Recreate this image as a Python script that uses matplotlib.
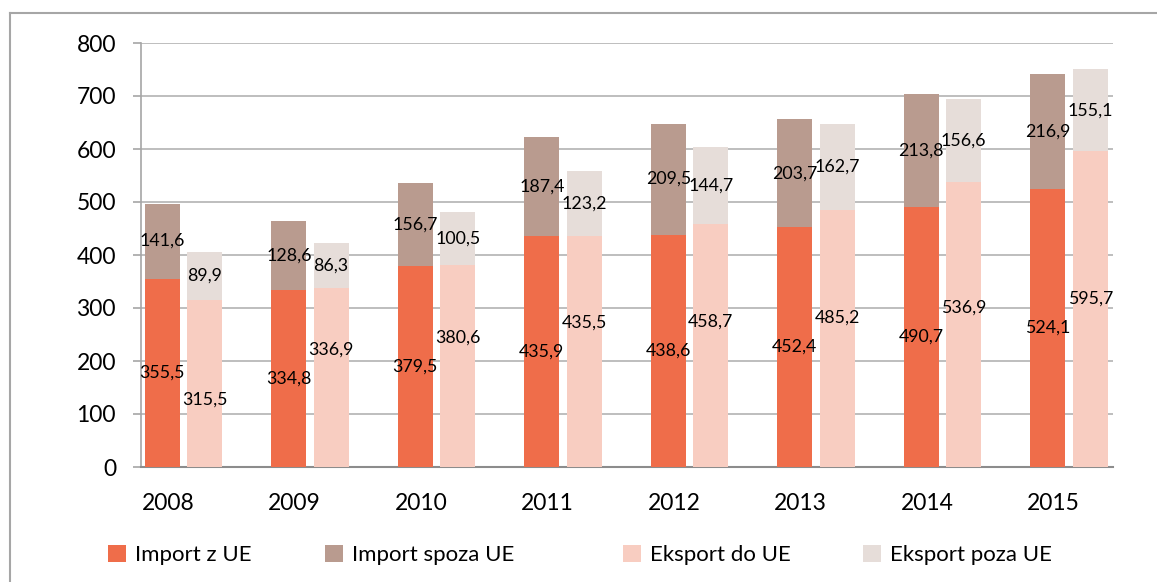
import numpy as np
import matplotlib.pyplot as plt
from matplotlib.lines import Line2D

plt.rcParams['font.family'] = ['Lato', 'DejaVu Sans']

years = ["2008", "2009", "2010", "2011", "2012", "2013", "2014", "2015"]
import_ue = [355.5, 334.8, 379.5, 435.9, 438.6, 452.4, 490.7, 524.1]
import_non_ue = [141.6, 128.6, 156.7, 187.4, 209.5, 203.7, 213.8, 216.9]
export_ue = [315.5, 336.9, 380.6, 435.5, 458.7, 485.2, 536.9, 595.7]
export_non_ue = [89.9, 86.3, 100.5, 123.2, 144.7, 162.7, 156.6, 155.1]

labels = ["Import z UE", "Import spoza UE", "Eksport do UE", "Eksport poza UE"]
colors = ["#EF6D4A", "#B99B8F", "#F8CDC1", "#E6DDD9"]
legend_x = [88, 305, 603, 843]   # left edge of each legend entry, px

def fmt(v):
    return f"{v:.1f}".replace(".", ",")

fig = plt.figure(figsize=(11.57, 5.82), dpi=100)
ax = fig.add_axes([141 / 1157, 1 - 467 / 582, (1113 - 141) / 1157, (467 - 43) / 582])

x = np.arange(len(years))
w = 0.275
xi = x - 0.045
xe = x + 0.29

b1 = ax.bar(xi, import_ue, w, color=colors[0], label=labels[0], zorder=3)
b2 = ax.bar(xi, import_non_ue, w, bottom=import_ue, color=colors[1], label=labels[1], zorder=3)
b3 = ax.bar(xe, export_ue, w, color=colors[2], label=labels[2], zorder=3)
b4 = ax.bar(xe, export_non_ue, w, bottom=export_ue, color=colors[3], label=labels[3], zorder=3)

lab_kw = dict(ha="center", va="center", fontsize=12.8, color="black", zorder=5)
for i in range(len(years)):
    mi = import_ue[i] / 2
    me = export_ue[i] / 2
    # keep the two lower labels from overlapping, as the original does
    if abs(me - mi) < 50:
        me = mi - 50 if me < mi - 10 else mi + 55
    ax.text(xi[i], mi, fmt(import_ue[i]), **lab_kw)
    ax.text(xe[i], me, fmt(export_ue[i]), **lab_kw)
    ax.text(xi[i], import_ue[i] + import_non_ue[i] / 2, fmt(import_non_ue[i]), **lab_kw)
    ax.text(xe[i], export_ue[i] + export_non_ue[i] / 2, fmt(export_non_ue[i]), **lab_kw)

ax.set_xlim(-0.213, 7.47)
ax.set_ylim(0, 800)
ax.set_yticks(range(0, 801, 100))
ax.set_xticks(x)
ax.set_xticklabels(years)
ax.grid(True, axis="y", color="#B3B3B3", linewidth=1.2, zorder=0)
ax.tick_params(axis="y", length=6, color="#A6A6A6", width=1.2, pad=12, labelsize=16.5)
ax.tick_params(axis="x", length=0, pad=19, labelsize=16.5)
for s in ["top", "right"]:
    ax.spines[s].set_visible(False)
ax.spines["left"].set_color("#A6A6A6")
ax.spines["left"].set_linewidth(1.2)
ax.spines["bottom"].set_color("#8C8C8C")
ax.spines["bottom"].set_linewidth(1.5)

for h, lab, lx in zip([b1, b2, b3, b4], labels, legend_x):
    fig.legend(handles=[h], labels=[lab], loc="center left",
               bbox_to_anchor=(lx / 1157, 1 - 555 / 582), frameon=False,
               fontsize=16, handlelength=0.8, handleheight=0.8, handletextpad=0.4)

# outer chart border
fx, fy = 10 / 1157, 1 - 13 / 582
fig.add_artist(Line2D([fx, 1], [fy, fy], transform=fig.transFigure, color="#A6A6A6", lw=1.5))
fig.add_artist(Line2D([fx, fx], [0, fy], transform=fig.transFigure, color="#A6A6A6", lw=1.5))

fig.savefig("out.png", dpi=100)
